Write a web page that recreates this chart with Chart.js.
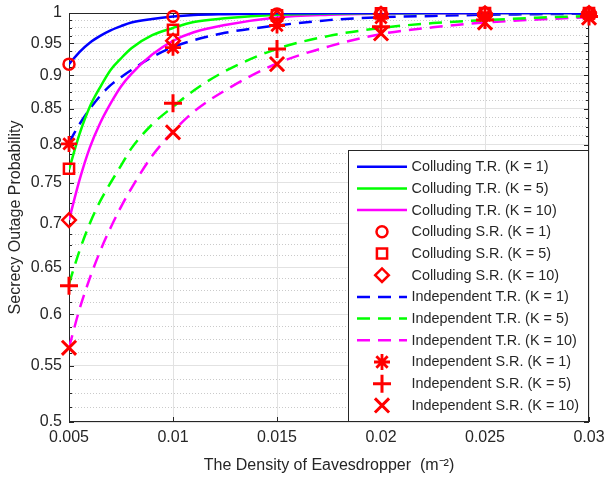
<!DOCTYPE html>
<html>
<head>
<meta charset="utf-8">
<script src="https://cdn.jsdelivr.net/npm/chart.js@4.4.1/dist/chart.umd.min.js"></script>
<style>
  html, body { margin: 0; padding: 0; background: #ffffff; }
</style>
</head>
<body>
<canvas id="chart" width="605" height="478"></canvas>
<script>
// setup variables
const canvas = document.querySelector("#chart");
const fontFamily = "'Liberation Sans', Arial, sans-serif";
const axisColor = "#262626";
const red = "#ff0000";

// x positions of the theory curves (density of eavesdroppers)
const curveX = [0.005, 0.0055, 0.006, 0.0065, 0.007, 0.0075, 0.008, 0.009, 0.01, 0.011, 0.0125, 0.015, 0.0175, 0.02, 0.0225, 0.025, 0.0275, 0.03];

// colluding eavesdroppers, theory
const collTrK1 = [0.917, 0.936, 0.951, 0.962, 0.971, 0.978, 0.984, 0.990, 0.994, 0.9965, 0.998, 0.9994, 0.9998, 0.9999, 0.9999, 0.9999, 0.9999, 0.9999];
const collTrK5 = [0.767, 0.814, 0.853, 0.882, 0.908, 0.926, 0.942, 0.963, 0.975, 0.985, 0.991, 0.997, 0.999, 0.9996, 0.9998, 0.9999, 0.9999, 0.9999];
const collTrK10 = [0.704, 0.753, 0.796, 0.830, 0.858, 0.883, 0.902, 0.932, 0.954, 0.968, 0.980, 0.9925, 0.997, 0.9988, 0.9995, 0.9998, 0.9999, 0.9999];

// independent eavesdroppers, theory
const indTrK1 = [0.803, 0.828, 0.850, 0.869, 0.885, 0.897, 0.908, 0.928, 0.944, 0.955, 0.967, 0.979, 0.988, 0.993, 0.995, 0.997, 0.998, 0.999];
const indTrK5 = [0.632, 0.668, 0.700, 0.727, 0.750, 0.772, 0.795, 0.828, 0.853, 0.877, 0.906, 0.941, 0.962, 0.975, 0.983, 0.988, 0.992, 0.995];
const indTrK10 = [0.567, 0.605, 0.638, 0.668, 0.695, 0.720, 0.743, 0.785, 0.818, 0.846, 0.877, 0.918, 0.945, 0.965, 0.976, 0.984, 0.989, 0.993];

// simulation points
const simX = [0.005, 0.01, 0.015, 0.02, 0.025, 0.03];
const collSrK1 = [0.917, 0.994, 0.9985, 0.9995, 0.9998, 0.9999];
const collSrK5 = [0.768, 0.972, 0.996, 0.9993, 0.9998, 0.9999];
const collSrK10 = [0.704, 0.954, 0.992, 0.9985, 0.9996, 0.9999];
const indSrK1 = [0.801, 0.943, 0.979, 0.992, 0.996, 0.998];
const indSrK5 = [0.630, 0.858, 0.941, 0.977, 0.988, 0.994];
const indSrK10 = [0.567, 0.817, 0.917, 0.966, 0.984, 0.992];

// axis ticks
const xTicks = [0.005, 0.01, 0.015, 0.02, 0.025, 0.03];
const xTickLabels = ["0.005", "0.01", "0.015", "0.02", "0.025", "0.03"];
const yTicks = [0.5, 0.55, 0.6, 0.65, 0.7, 0.75, 0.8, 0.85, 0.9, 0.95, 1];
const yTickLabels = ["0.5", "0.55", "0.6", "0.65", "0.7", "0.75", "0.8", "0.85", "0.9", "0.95", "1"];

// minor ticks sit at quarters between the major ones
const yMinorTicks = [];
for (let i = 0; i < yTicks.length - 1; i++) {
  const step = (yTicks[i + 1] - yTicks[i]) / 4;
  for (let k = 1; k < 4; k++) yMinorTicks.push(yTicks[i] + k * step);
}

// Helper functions

const toPoints = (xs, ys) => xs.map((x, i) => ({ x: x, y: ys[i] }));

const lineSet = (label, ys, color, dash) => ({
  label: label,
  data: toPoints(curveX, ys),
  borderColor: color,
  backgroundColor: color,
  borderWidth: 2.5,
  borderDash: dash,
  pointRadius: 0,
  cubicInterpolationMode: "monotone",
  fill: false,
  order: 1,
});

const markerSet = (label, ys, style, radius, width) => ({
  label: label,
  data: toPoints(simX, ys),
  showLine: false,
  pointStyle: style,
  pointRadius: radius,
  pointHoverRadius: radius,
  pointBorderWidth: width,
  pointBorderColor: red,
  pointBackgroundColor: "rgba(0,0,0,0)",
  borderColor: red,
  clip: false,
  order: 0,
});

// datasets kept in legend order
const datasets = [
  lineSet("Colluding T.R. (K = 1)", collTrK1, "#0000ff", []),
  lineSet("Colluding T.R. (K = 5)", collTrK5, "#00ff00", []),
  lineSet("Colluding T.R. (K = 10)", collTrK10, "#ff00ff", []),
  markerSet("Colluding S.R. (K = 1)", collSrK1, "circle", 5.5, 2.5),
  markerSet("Colluding S.R. (K = 5)", collSrK5, "rect", 7.2, 2.5),
  markerSet("Colluding S.R. (K = 10)", collSrK10, "rectRot", 6.8, 2.5),
  lineSet("Independent T.R. (K = 1)", indTrK1, "#0000ff", [13, 8]),
  lineSet("Independent T.R. (K = 5)", indTrK5, "#00ff00", [13, 8]),
  lineSet("Independent T.R. (K = 10)", indTrK10, "#ff00ff", [13, 8]),
  markerSet("Independent S.R. (K = 1)", indSrK1, "star", 8, 2.8),
  markerSet("Independent S.R. (K = 5)", indSrK5, "cross", 9, 3),
  markerSet("Independent S.R. (K = 10)", indSrK10, "crossRot", 10, 3),
];

// box round the plot with matlab style inward ticks
const frameBox = {
  id: "frameBox",
  beforeDatasetsDraw(chart) {
    const { ctx, chartArea, scales } = chart;
    const { left, right, top, bottom } = chartArea;
    ctx.save();
    ctx.strokeStyle = axisColor;
    ctx.lineWidth = 1;
    ctx.strokeRect(left + 0.5, top + 0.5, right - left - 1, bottom - top - 1);
    ctx.beginPath();
    yTicks.forEach((v) => {
      const py = Math.round(scales.y.getPixelForValue(v)) + 0.5;
      ctx.moveTo(left, py);
      ctx.lineTo(left + 5, py);
      ctx.moveTo(right, py);
      ctx.lineTo(right - 5, py);
    });
    yMinorTicks.forEach((v) => {
      const py = Math.round(scales.y.getPixelForValue(v)) + 0.5;
      ctx.moveTo(left, py);
      ctx.lineTo(left + 3, py);
      ctx.moveTo(right, py);
      ctx.lineTo(right - 3, py);
    });
    xTicks.forEach((v) => {
      const px = Math.round(scales.x.getPixelForValue(v)) + 0.5;
      ctx.moveTo(px, bottom);
      ctx.lineTo(px, bottom - 5);
      ctx.moveTo(px, top);
      ctx.lineTo(px, top + 5);
    });
    ctx.stroke();
    ctx.restore();
  },
};

// legend drawn inside the lower right corner of the plot
const insideLegend = {
  id: "insideLegend",
  afterDraw(chart) {
    const { ctx, chartArea } = chart;
    const boxW = 240;
    const boxH = 271;
    const rowH = 21.7;
    const left = chartArea.right - 1 - boxW;
    const top = chartArea.bottom - 1 - boxH;
    ctx.save();
    ctx.fillStyle = "#ffffff";
    ctx.fillRect(left, top, boxW, boxH);
    ctx.strokeStyle = axisColor;
    ctx.lineWidth = 1;
    ctx.strokeRect(left + 0.5, top + 0.5, boxW, boxH);
    ctx.font = "14.4px " + fontFamily;
    ctx.textBaseline = "middle";
    ctx.textAlign = "left";
    chart.data.datasets.forEach((ds, i) => {
      const y = top + 16.7 + i * rowH;
      if (ds.showLine === false) {
        ctx.save();
        ctx.strokeStyle = ds.pointBorderColor;
        ctx.fillStyle = ds.pointBackgroundColor;
        ctx.lineWidth = ds.pointBorderWidth;
        ctx.setLineDash([]);
        Chart.helpers.drawPoint(ctx, {
          pointStyle: ds.pointStyle,
          radius: ds.pointRadius,
          rotation: 0,
          borderWidth: ds.pointBorderWidth,
        }, left + 34, y);
        ctx.restore();
      } else {
        ctx.save();
        ctx.strokeStyle = ds.borderColor;
        ctx.lineWidth = ds.borderWidth;
        ctx.setLineDash(ds.borderDash);
        ctx.beginPath();
        ctx.moveTo(left + 9, y);
        ctx.lineTo(left + 59, y);
        ctx.stroke();
        ctx.restore();
      }
      ctx.fillStyle = axisColor;
      ctx.fillText(ds.label, left + 63.5, y + 0.5);
    });
    ctx.restore();
  },
};

const tickFont = { family: fontFamily, size: 16 };

const chart = new Chart(canvas.getContext("2d"), {
  type: "line",
  data: { datasets: datasets },
  options: {
    responsive: false,
    animation: false,
    events: [],
    layout: { padding: { left: 0, right: 16, top: 11, bottom: 0 } },
    plugins: {
      legend: { display: false },
      tooltip: { enabled: false },
    },
    scales: {
      x: {
        type: "linear",
        min: 0.005,
        max: 0.03,
        afterBuildTicks: (scale) => {
          scale.ticks = xTicks.map((v) => ({ value: v }));
        },
        afterFit: (scale) => {
          scale.height = 56;
          scale.paddingLeft = 0;
          scale.paddingRight = 0;
        },
        ticks: {
          autoSkip: false,
          maxRotation: 0,
          padding: 6,
          color: axisColor,
          font: tickFont,
          callback: (value, index) => xTickLabels[index],
        },
        grid: { color: "#e2e2e2", lineWidth: 1, drawTicks: false },
        border: { display: false },
        title: {
          display: true,
          text: "The Density of Eavesdropper  (m\u207B\u00B2)",
          color: axisColor,
          font: { family: fontFamily, size: 16 },
          padding: { top: 0, bottom: 3 },
        },
      },
      y: {
        type: "logarithmic",
        position: "left",
        min: 0.5,
        max: 1,
        weight: 1,
        afterBuildTicks: (scale) => {
          scale.ticks = yTicks.map((v) => ({ value: v }));
        },
        afterFit: (scale) => {
          scale.width = 69;
          scale.paddingTop = 0;
          scale.paddingBottom = 0;
        },
        ticks: {
          autoSkip: false,
          padding: 7,
          color: axisColor,
          font: tickFont,
          callback: (value, index) => yTickLabels[index],
        },
        grid: { color: "#e2e2e2", lineWidth: 1, drawTicks: false },
        border: { display: false },
        title: {
          display: true,
          text: "Secrecy Outage Probability",
          color: axisColor,
          font: { family: fontFamily, size: 16 },
          padding: { top: 6, bottom: 0 },
        },
      },
      yMinor: {
        type: "logarithmic",
        position: "left",
        min: 0.5,
        max: 1,
        weight: 0,
        afterBuildTicks: (scale) => {
          scale.ticks = yMinorTicks.map((v) => ({ value: v }));
        },
        afterFit: (scale) => {
          scale.width = 0;
          scale.paddingTop = 0;
          scale.paddingBottom = 0;
        },
        ticks: { display: false },
        grid: { color: "#cacaca", lineWidth: 1, drawTicks: false },
        border: { display: false, dash: [1, 2] },
      },
    },
  },
  plugins: [frameBox, insideLegend],
});
</script>
</body>
</html>
